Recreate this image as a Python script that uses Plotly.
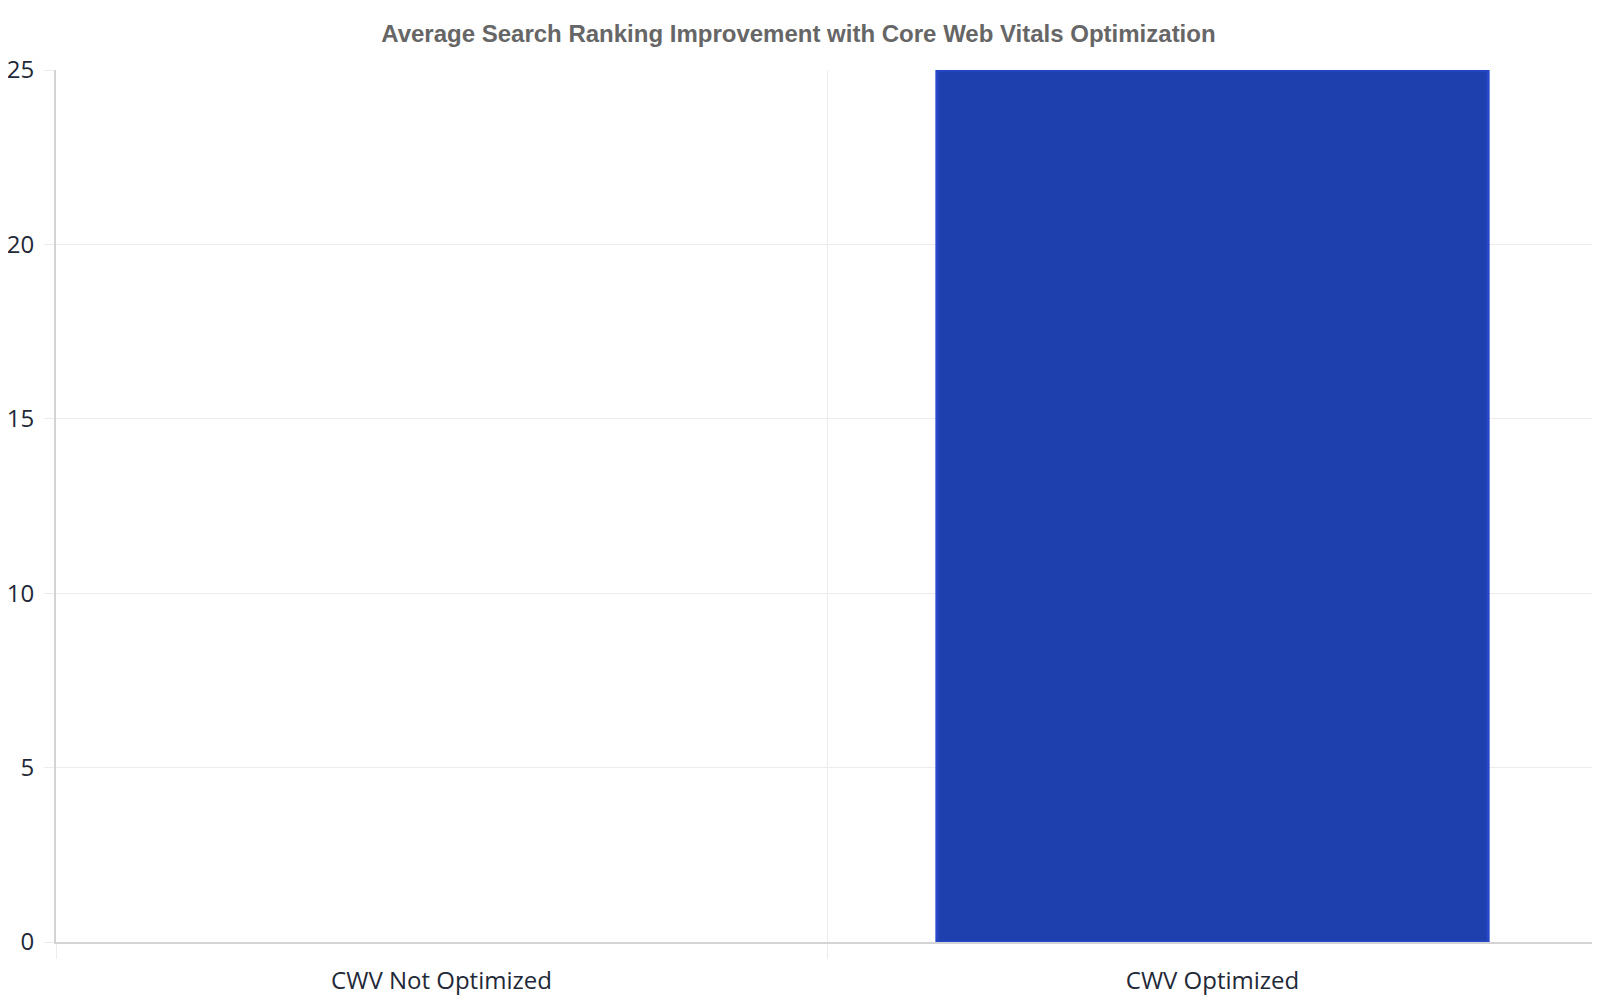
import plotly.graph_objects as go

# data
categories = ["CWV Not Optimized", "CWV Optimized"]
ranking_gain = [0, 25]
y_ticks = [0, 5, 10, 15, 20, 25]

fig = go.Figure(go.Bar(
    x=categories,
    y=ranking_gain,
    width=0.715,
    marker=dict(color="#1e40af",
                line=dict(color="#2547c8", width=[0 if v == 0 else 3 for v in ranking_gain])),
    hoverinfo="x+y",
))

fig.update_layout(
    width=1600,
    height=1000,
    margin=dict(l=48, r=10, t=62, b=66),
    paper_bgcolor="white",
    plot_bgcolor="white",
    showlegend=False,
    title=dict(
        text="<b>Average Search Ranking Improvement with Core Web Vitals Optimization</b>",
        x=0.494, xanchor="center", y=0.974, yanchor="middle",
        font=dict(family="Liberation Sans, Arial", size=24, color="#666666"),
    ),
    font=dict(family="Open Sans", size=24, color="#1f2937"),
)

fig.update_xaxes(
    type="category",
    tickson="boundaries",
    automargin=False,
    showgrid=True, gridcolor="#ececec", gridwidth=1,
    showline=True, linecolor="#d4d4d4", linewidth=2,
    ticks="outside", ticklen=15, tickcolor="#ececec",
    ticklabelstandoff=16,
    tickfont=dict(size=24, color="#1f2937"),
)
fig.update_yaxes(
    range=[0, 25],
    tickvals=y_ticks,
    automargin=False,
    showgrid=True, gridcolor="#ececec", gridwidth=1,
    zeroline=False,
    showline=True, linecolor="#d4d4d4", linewidth=2,
    ticks="outside", ticklen=10, tickcolor="#ececec",
    ticklabelstandoff=5,
    tickfont=dict(size=24, color="#1f2937"),
)

fig.write_html("out.html")
